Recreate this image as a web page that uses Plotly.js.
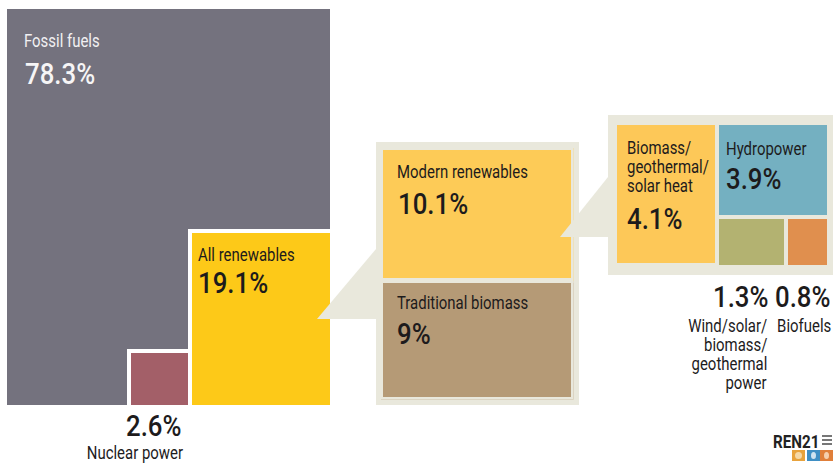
<!DOCTYPE html>
<html><head><meta charset="utf-8">
<script src="https://cdn.plot.ly/plotly-3.0.1.min.js"></script>
<style>html,body{margin:0;padding:0;background:#fff}#c{width:835px;height:463px}</style>
</head><body><div id="c"></div>
<script>
// ---- data (share of energy, %)
const mainNames = ['Fossil fuels', 'Nuclear power', 'All renewables'];
const mainValues = [78.3, 2.6, 19.1];
const renewNames = ['Modern renewables', 'Traditional biomass'];
const renewValues = [10.1, 9];
const modernNames = ['Biomass/<br>geothermal/<br>solar heat', 'Hydropower', 'Wind/solar/<br>biomass/<br>geothermal<br>power', 'Biofuels'];
const modernValues = [4.1, 3.9, 1.3, 0.8];

// ---- page layout helpers (pixels of the 835x463 page to paper fractions)
const W = 835, H = 463;
const px = x => x / W, py = y => 1 - y / H;
const dom = (a, b) => [a / W, b / W];
const domY = (a, b) => [1 - b / H, 1 - a / H];
const INK = '#1d1b1c', BEIGE = '#e9e8dc', FONT = 'Roboto,sans-serif';
const colors = {fossil:'#74727e', nuclear:'#a35f68', renew:'#fdc918', modern:'#fdcb57', trad:'#b59a76',
                heat:'#fdc858', hydro:'#74b0c1', wind:'#b3b271', fuels:'#e08f4e'};

// ---- panel 1: area is proportional to the share (width x height = value)
const total = mainValues.reduce((a, b) => a + b, 0);
const wRenew = 0.435, wNuclear = 0.186;
const hRenew = mainValues[2] / wRenew, hNuclear = mainValues[1] / wNuclear;
const mainTrace = {
  type:'bar', xaxis:'x', yaxis:'y', showlegend:false, hoverinfo:'skip',
  x:[0.5, 1 - wRenew - wNuclear / 2, 1 - wRenew / 2],
  width:[1, wNuclear, wRenew],
  y:[total, hNuclear, hRenew],
  marker:{color:[colors.fossil, colors.nuclear, colors.renew], line:{color:'#fff', width:4}}
};

// ---- panel 2: one stacked column
const bar2 = (v, c, name) => ({type:'bar', xaxis:'x2', yaxis:'y2', x:[0], y:[v], width:[1], name, showlegend:false,
  hoverinfo:'skip', marker:{color:c, line:{color:BEIGE, width:5}}});

// ---- panel 3: left column, then right column stacked by value
const lowSum = modernValues[2] + modernValues[3];
const heat = {type:'bar', xaxis:'x3', yaxis:'y3', x:[0], y:[modernValues[0]], width:[1], showlegend:false, hoverinfo:'skip',
  marker:{color:colors.heat, line:{color:BEIGE, width:4}}};
const right = {type:'bar', xaxis:'x4', yaxis:'y4', showlegend:false, hoverinfo:'skip',
  x:[lowSum / 2, modernValues[2] / 2, modernValues[2] + modernValues[3] / 2],
  width:[lowSum, modernValues[2], modernValues[3]],
  base:[lowSum, 0, 0],
  y:[modernValues[1], lowSum, lowSum],
  marker:{color:[colors.hydro, colors.wind, colors.fuels], line:{color:BEIGE, width:4}}};

const data = [mainTrace, bar2(renewValues[1], colors.trad, renewNames[1]), bar2(renewValues[0], colors.modern, renewNames[0]), heat, right];

const ax = (d, r) => ({visible:false, domain:d, range:r, fixedrange:true});
const pct = v => v + '%';
const annotations = [], squeeze = [];
const put = (x, y, text, size, sx, color, weight, right) => {
  annotations.push({xref:'paper', yref:'paper', x:px(x + (right ? 2 : -2)), y:py(y), text, showarrow:false,
    xanchor:right ? 'right' : 'left', yanchor:'middle', align:right ? 'right' : 'left',
    font:{family:FONT, size, color, weight}});
  squeeze.push({sx, right:!!right});
};
const LBL = 18, NUM = 30, SL = 0.83, SN = 0.86;
const label = (x, y, text, right, color) => text.split('<br>').forEach((t, i) => put(x, y + i * 19, t, LBL, SL, color || INK, 400, right));
const number = (x, y, v, right, color) => put(x, y, pct(v), NUM, SN, color || INK, 500, right);

label(24, 41, mainNames[0], false, '#f1f0f2');
number(25, 73, mainValues[0], false, '#f6f5f6');
label(198, 254, mainNames[2]);
number(198, 282, mainValues[2]);
number(182, 425, mainValues[1], true);
label(183, 452, mainNames[1], true);
label(397, 172, renewNames[0]);
number(398, 204, renewValues[0]);
label(397, 302, renewNames[1]);
number(397, 333, renewValues[1]);
label(627, 147, modernNames[0]);
number(627, 218, modernValues[0]);
label(726, 148, modernNames[1]);
number(726, 179, modernValues[1]);
number(769, 296, modernValues[2], true);
number(831, 296, modernValues[3], true);
label(767, 325, modernNames[2], true);
label(831, 325, modernNames[3], true);
put(773, 441, 'REN21', 19, 0.8, '#222', 700, false);

const tri = (path) => ({type:'path', xref:'paper', yref:'paper', path, fillcolor:BEIGE, line:{width:0}, layer:'above'});
const P = (pts) => 'M ' + pts.map(p => px(p[0]) + ' ' + py(p[1])).join(' L ') + ' Z';
const rect = (x0, y0, x1, y1, c, layer) => ({type:'rect', xref:'paper', yref:'paper', x0:px(x0), x1:px(x1), y0:py(y0), y1:py(y1),
  fillcolor:c, line:{width:0}, layer:layer || 'below'});
const dot = (x0, y0, x1, y1, c) => Object.assign(rect(x0, y0, x1, y1, c, 'above'), {type:'circle'});
const shapes = [
  rect(376, 142, 579, 405, BEIGE),
  rect(608, 115, 833, 275, BEIGE),
  tri(P([[317, 319], [376, 249], [376, 319]])),
  tri(P([[560, 237], [608, 177], [608, 237]])),
  // logo block
  rect(792, 450, 805, 461, '#e8a33d', 'above'),
  rect(807, 450, 820, 461, '#3f8fc4', 'above'),
  rect(820, 450, 833, 461, '#e07f3a', 'above'),
  dot(795, 452, 802, 459, '#f5d9a8'),
  dot(811, 452, 816, 459, '#cfe3f0'),
  dot(824, 452, 829, 459, '#f5cfae'),
  rect(822, 435, 832, 437, '#777', 'above'),
  rect(822, 439, 832, 441, '#777', 'above'),
  rect(822, 443, 832, 445, '#777', 'above')
];
const layout = {
  width:W, height:H, margin:{l:0, r:0, t:0, b:0}, paper_bgcolor:'#fff', plot_bgcolor:'rgba(0,0,0,0)',
  barmode:'stack', bargap:0, showlegend:false,
  xaxis: ax(dom(5, 332), [0, 1]), yaxis: ax(domY(7, 407), [0, total]),
  xaxis2:ax(dom(380.5, 573.5), [-0.5, 0.5]), yaxis2:ax(domY(147.5, 399.5), [0, renewValues[0] + renewValues[1]]),
  xaxis3:ax(dom(615, 717), [-0.5, 0.5]), yaxis3:ax(domY(123, 265), [0, modernValues[0]]),
  xaxis4:ax(dom(716.5, 829), [0, lowSum]), yaxis4:ax(domY(123, 267), [0, modernValues[1] + lowSum]),
  annotations, shapes
};
Plotly.newPlot('c', data, layout, {displayModeBar:false, staticPlot:true}).then(() => {
  // No condensed face is installed: narrow each real text label horizontally about its anchor.
  squeeze.forEach((s, i) => {
    const t = document.querySelector('.annotation[data-index="' + i + '"] text');
    if (!t) return;
    const b = t.getBBox();
    const ox = s.right ? b.x + b.width : b.x;
    const old = t.getAttribute('transform') || '';
    t.setAttribute('transform', old + ' translate(' + ox + ',0) scale(' + s.sx + ',1) translate(' + (-ox) + ',0)');
  });
});
</script></body></html>
